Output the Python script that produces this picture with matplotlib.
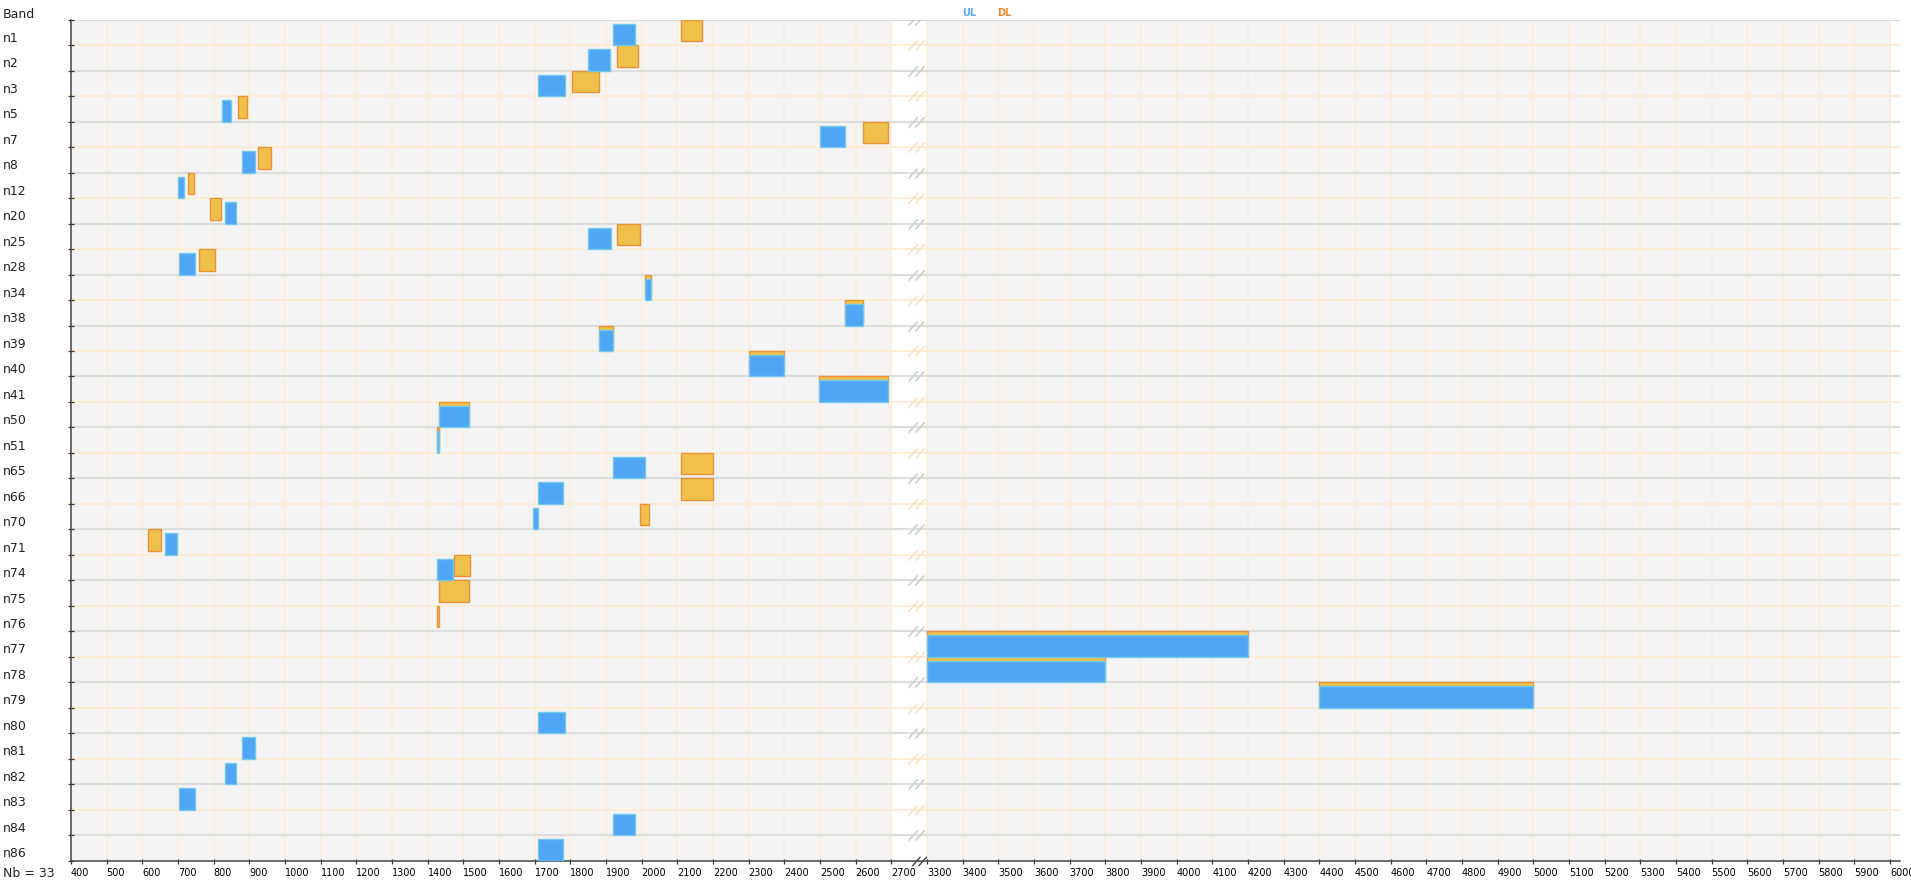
import numpy as np
import matplotlib.pyplot as plt
import matplotlib.transforms as mtransforms
from matplotlib.path import Path

# NR bands, top to bottom, frequency ranges in MHz (nan = no link in that direction)
nan = np.nan
bands = ['n1', 'n2', 'n3', 'n5', 'n7', 'n8', 'n12', 'n20', 'n25', 'n28', 'n34',
         'n38', 'n39', 'n40', 'n41', 'n50', 'n51', 'n65', 'n66', 'n70', 'n71',
         'n74', 'n75', 'n76', 'n77', 'n78', 'n79', 'n80', 'n81', 'n82', 'n83',
         'n84', 'n86']
ul_lo = [1920, 1850, 1710, 824, 2500, 880, 699, 832, 1850, 703, 2010,
         2570, 1880, 2300, 2496, 1432, 1427, 1920, 1710, 1695, 663,
         1427, nan, nan, 3300, 3300, 4400, 1710, 880, 832, 703,
         1920, 1710]
ul_hi = [1980, 1910, 1785, 849, 2570, 915, 716, 862, 1915, 748, 2025,
         2620, 1920, 2400, 2690, 1517, 1432, 2010, 1780, 1710, 698,
         1470, nan, nan, 4200, 3800, 5000, 1785, 915, 862, 748,
         1980, 1780]
dl_lo = [2110, 1930, 1805, 869, 2620, 925, 729, 791, 1930, 758, 2010,
         2570, 1880, 2300, 2496, 1432, 1427, 2110, 2110, 1995, 617,
         1475, 1432, 1427, 3300, 3300, 4400, nan, nan, nan, nan,
         nan, nan]
dl_hi = [2170, 1990, 1880, 894, 2690, 960, 746, 821, 1995, 803, 2025,
         2620, 1920, 2400, 2690, 1517, 1432, 2200, 2200, 2020, 652,
         1518, 1517, 1432, 4200, 3800, 5000, nan, nan, nan, nan,
         nan, nan]
xticks = list(range(400, 2701, 100)) + list(range(3300, 6001, 100))

# axe brisee : 2700-3300 est comprime dans un seul intervalle de 100
def fwd(x):
    x = np.asarray(x, dtype=float)
    return np.where(x <= 2700, x, np.where(x >= 3300, x - 500, 2700 + (x - 2700) / 6.0))

def inv(y):
    y = np.asarray(y, dtype=float)
    return np.where(y <= 2700, y, np.where(y >= 2800, y + 500, 2700 + (y - 2700) * 6.0))

W, H = 1911, 887
fig = plt.figure(figsize=(W / 100, H / 100), dpi=100)
ax = fig.add_axes([71 / W, (H - 861.7) / H, (1900 - 71) / W, (861.7 - 20.7) / H])
ax.set_xscale('function', functions=(fwd, inv))
ax.set_xlim(400, 6028)
ax.set_ylim(len(bands), 0)
ax.set_facecolor('#f4f4f4')

# zones blanches (coupure et bord droit)
ax.axvspan(2700, 3300, color='white', lw=0, zorder=0.5)
ax.axvspan(6000, 6028, color='white', lw=0, zorder=0.5)

# grille
for t in xticks:
    ax.axvline(t, color='#fdeed8', lw=1.3, zorder=1)
for k in range(len(bands)):
    if k % 2 == 0:
        ax.axhline(k, color='#dddddd', lw=1.6, zorder=1.2)
    else:
        ax.axhline(k, color='#fdecd2', lw=1.3, zorder=1.1)

# marques "//" dans la coupure
slash = Path([(-7, -4.5), (1, 4.5), (-1, -4.5), (7, 4.5)],
             [Path.MOVETO, Path.LINETO, Path.MOVETO, Path.LINETO])
for k in range(len(bands)):
    c = '#cdcdcd' if k % 2 == 0 else '#fae0bd'
    ax.plot([3115], [k], ls='', marker=slash, ms=11.5, mec=c, mew=1.2, zorder=1.5)
ax.plot([3165], [len(bands)], ls='', marker=slash, ms=10.5, mec='#444444', mew=1.0,
        zorder=5, clip_on=False)

# barres DL (orange, en haut) et UL (bleu, en bas)
d = 4 / 25.48
for i in range(len(bands)):
    if not np.isnan(dl_lo[i]):
        ax.barh(i + (1 - d) / 2, dl_hi[i] - dl_lo[i], left=dl_lo[i], height=1 - d,
                color='#efc14b', edgecolor='#e8923a', lw=1.0, zorder=3)
    if not np.isnan(ul_lo[i]):
        ax.barh(i + d + (1 - d) / 2, ul_hi[i] - ul_lo[i], left=ul_lo[i], height=1 - d,
                color='#4ea6f4', edgecolor='#72c9ea', lw=1.0, zorder=4)

# axes
for s in ['top', 'right']:
    ax.spines[s].set_visible(False)
for s in ['left', 'bottom']:
    ax.spines[s].set_color('#444444')
    ax.spines[s].set_linewidth(1.1)

ax.set_xticks(xticks)
ax.set_xticklabels([str(t) for t in xticks])
ax.tick_params(axis='x', direction='inout', length=3.6, width=0.9, color='#333333',
               pad=2.5, labelsize=7)
for lab in ax.get_xticklabels():
    lab.set_ha('left')
    lab.set_family(['Liberation Sans Narrow', 'DejaVu Sans'])
ax.set_yticks(range(len(bands) + 1))
ax.set_yticklabels([])
ax.tick_params(axis='y', direction='inout', length=4.3, width=0.9, color='#333333')
ax.minorticks_off()

# libelles des bandes
trans = mtransforms.blended_transform_factory(fig.transFigure, ax.transData)
for i, b in enumerate(bands):
    ax.text(3 / W, i + 0.5 + 0.33, b, transform=trans, fontsize=9, ha='left',
            va='baseline', color='#222222')

fig.text(3 / W, 1 - 18.3 / H, 'Band', fontsize=9, ha='left', va='baseline', color='#222222')
fig.text(3 / W, 1 - 876.7 / H, 'Nb = 33', fontsize=9, ha='left', va='baseline', color='#222222')

# legende
fig.text(969 / W, 1 - 16 / H, 'UL', fontsize=7, fontweight='bold', ha='center',
         va='baseline', color='#5aacf5')
fig.text(1004 / W, 1 - 16 / H, 'DL', fontsize=7, fontweight='bold', ha='center',
         va='baseline', color='#e8892b')

fig.savefig('out.png', dpi=100)
